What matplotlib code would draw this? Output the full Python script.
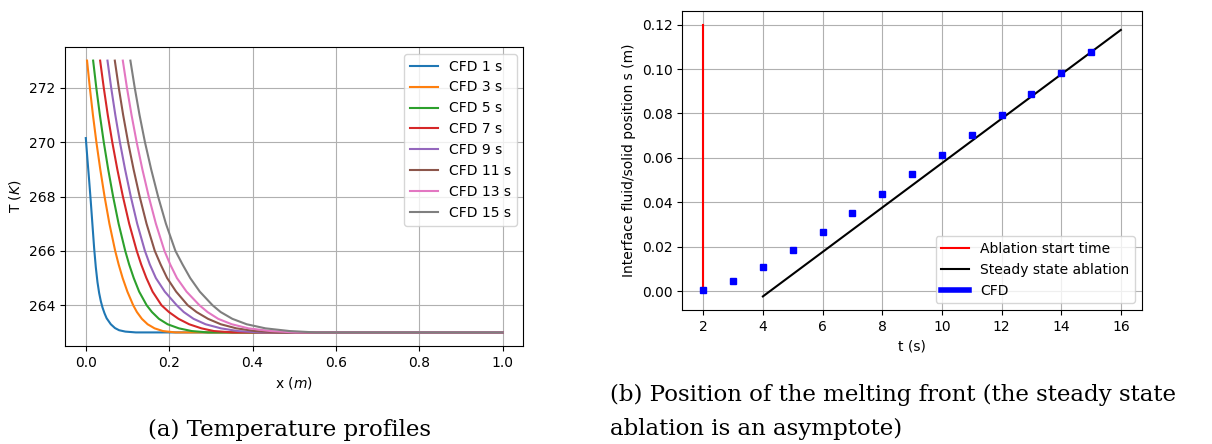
import numpy as np
import matplotlib
matplotlib.use("Agg")
import matplotlib.pyplot as plt
from matplotlib.lines import Line2D

plt.rcParams['font.size'] = 10

#------------------------------------------ Temperature profiles (left) ------------------------------------------------
labels_T = ["CFD 1 s", "CFD 3 s", "CFD 5 s", "CFD 7 s", "CFD 9 s", "CFD 11 s", "CFD 13 s", "CFD 15 s"]

# Temperature levels read along the profiles of 3 s ... 15 s
T_levels = [273.0, 272.0, 271.0, 270.0, 269.0, 268.0, 267.0, 266.0, 265.5, 265.0, 264.5, 264.0, 263.75, 263.5,
            263.3, 263.15, 263.05, 263.0, 263.0]

x_1s = [0.0, 0.004, 0.008, 0.012, 0.016, 0.020, 0.024, 0.028, 0.032, 0.036, 0.040, 0.045, 0.050, 0.060, 0.070,
        0.080, 0.095, 0.12, 1.0]
T_1s = [270.15, 269.35, 268.6, 267.8, 266.95, 266.1, 265.4, 264.85, 264.45, 264.15, 263.92, 263.7, 263.52, 263.3,
        263.16, 263.08, 263.03, 263.0, 263.0]

x_3s = [0.003, 0.0097, 0.0171, 0.0254, 0.0347, 0.045, 0.0566, 0.0705, 0.0788, 0.0884, 0.0998, 0.1137, 0.1226,
        0.1345, 0.1483, 0.165, 0.185, 0.215, 1.0]
x_5s = [0.0176, 0.0252, 0.0337, 0.0431, 0.0537, 0.0655, 0.0787, 0.0946, 0.1040, 0.1150, 0.1280, 0.1460, 0.1587,
        0.1754, 0.1963, 0.2233, 0.2542, 0.2932, 1.0]
x_7s = [0.0344, 0.0431, 0.0527, 0.0635, 0.0756, 0.0890, 0.1041, 0.1222, 0.1329, 0.1454, 0.1602, 0.1816, 0.1994,
        0.2224, 0.2480, 0.2774, 0.3074, 0.3524, 1.0]
x_9s = [0.052, 0.0609, 0.0708, 0.0818, 0.0942, 0.1079, 0.1233, 0.1418, 0.1536, 0.1681, 0.1895, 0.2181, 0.2350,
        0.2585, 0.2874, 0.3242, 0.3650, 0.4166, 1.0]
x_11s = [0.0696, 0.0791, 0.0896, 0.1014, 0.1146, 0.1292, 0.1457, 0.1655, 0.1795, 0.1951, 0.2167, 0.2445, 0.2657,
         0.2932, 0.3239, 0.3612, 0.4063, 0.4618, 1.0]
x_13s = [0.0888, 0.0987, 0.1097, 0.1220, 0.1357, 0.1510, 0.1681, 0.1887, 0.2025, 0.2186, 0.2417, 0.2726, 0.2921,
         0.3176, 0.3503, 0.3901, 0.4437, 0.5022, 1.0]
x_15s = [0.107, 0.1174, 0.1289, 0.1419, 0.1568, 0.1734, 0.1922, 0.2150, 0.2321, 0.2505, 0.2735, 0.3040, 0.3235,
         0.3516, 0.3860, 0.4310, 0.4892, 0.5522, 1.0]

profiles_x = [x_1s, x_3s, x_5s, x_7s, x_9s, x_11s, x_13s, x_15s]
profiles_T = [T_1s] + [T_levels] * 7

#------------------------------------------ Melting front position (right) ---------------------------------------------
t_cfd = [2, 3, 4, 5, 6, 7, 8, 9, 10, 11, 12, 13, 14, 15]
s_cfd = [0.0003, 0.0045, 0.011, 0.0185, 0.0265, 0.035, 0.0435, 0.0525, 0.0613, 0.0703, 0.0795, 0.0888, 0.098, 0.1075]

t_start = [2, 2]
s_start = [0.0, 0.12]

t_steady = [4, 16]
s_steady = [-0.0024, 0.1176]


fig = plt.figure(figsize=(12.12, 4.44), dpi=100)

# (a) temperature profiles
ax1 = fig.add_axes([0.0536, 0.2207, 0.3783, 0.6734])
for xs, Ts, lab in zip(profiles_x, profiles_T, labels_T):
    ax1.plot(xs, Ts, label=lab)
ax1.set_xlabel("x ($m$)")
ax1.set_ylabel("T ($K$)")
ax1.grid(True)
ax1.legend(loc='upper right')

# (b) position of the melting front
ax2 = fig.add_axes([0.563, 0.3018, 0.379, 0.6734])
ax2.plot(t_start, s_start, color='r')
ax2.plot(t_steady, s_steady, color='k')
ax2.plot(t_cfd, s_cfd, 'bs', markersize=4)
ax2.set_xlabel("t (s)")
ax2.set_ylabel("Interface fluid/solid position s (m)")
ax2.grid(True)
handles = [Line2D([], [], color='r', lw=1.5),
           Line2D([], [], color='k', lw=1.5),
           Line2D([], [], color='b', lw=4)]
ax2.legend(handles, ["Ablation start time", "Steady state ablation", "CFD"], loc='lower right')

# Captions
fig.text(0.239, 0.032, "(a) Temperature profiles", family='DejaVu Serif', fontsize=16.5, ha='center', va='center')
fig.text(0.503, 0.11, "(b) Position of the melting front (the steady state", family='DejaVu Serif', fontsize=16.5,
         ha='left', va='center')
fig.text(0.503, 0.035, "ablation is an asymptote)", family='DejaVu Serif', fontsize=16.5, ha='left', va='center')

fig.savefig("out.png", dpi=100)
